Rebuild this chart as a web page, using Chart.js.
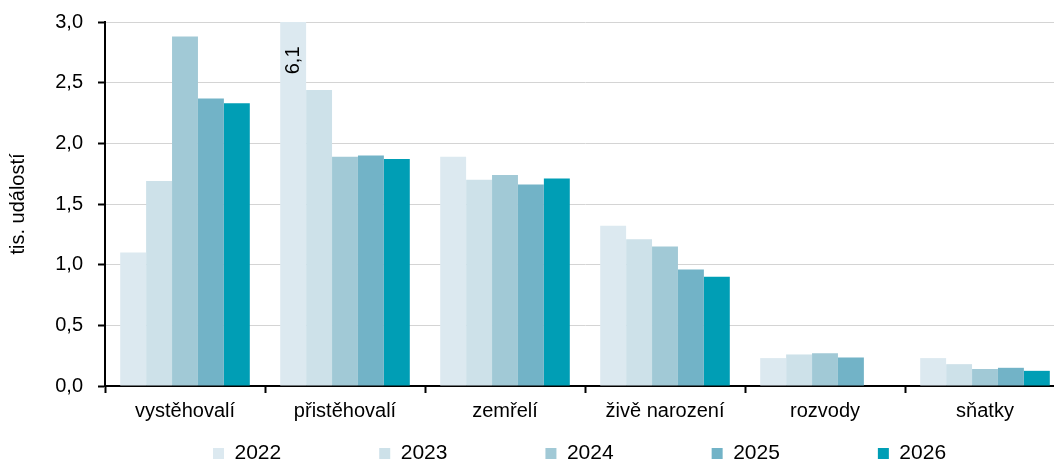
<!DOCTYPE html>
<html>
<head>
<meta charset="utf-8">
<script src="https://cdn.jsdelivr.net/npm/chart.js@4/dist/chart.umd.min.js"></script>
<style>
  html, body { margin: 0; padding: 0; background: #fff; overflow: hidden; }
  #wrap { position: relative; width: 1066px; height: 461px; }
</style>
</head>
<body>
<div id="wrap"><canvas id="c"></canvas></div>
<script>
const categories = ['vystěhovalí', 'přistěhovalí', 'zemřelí', 'živě narození', 'rozvody', 'sňatky'];
const seriesNames = ['2022', '2023', '2024', '2025', '2026'];
const values2022 = [1.10, 6.1, 1.89, 1.32, 0.23, 0.23];
const values2023 = [1.69, 2.44, 1.70, 1.21, 0.26, 0.18];
const values2024 = [2.88, 1.89, 1.74, 1.15, 0.27, 0.14];
const values2025 = [2.37, 1.90, 1.66, 0.96, 0.235, 0.15];
const values2026 = [2.33, 1.87, 1.71, 0.90, null, 0.125];
const seriesColors = ['#DCE9F0', '#CDE1E9', '#A1C9D6', '#72B3C7', '#009EB5'];
const yTicks = [0, 0.5, 1.0, 1.5, 2.0, 2.5, 3.0];
const overflowLabel = '6,1';

const FONT = "'Liberation Sans', Arial, sans-serif";
const allValues = [values2022, values2023, values2024, values2025, values2026];

const datasets = seriesNames.map((name, i) => ({
  label: name,
  data: allValues[i],
  backgroundColor: seriesColors[i],
  borderWidth: 0,
  categoryPercentage: 0.81,
  barPercentage: 1.0
}));

const overflowPlugin = {
  id: 'overflowLabel',
  afterDatasetsDraw(chart) {
    const meta = chart.getDatasetMeta(0);
    const bar = meta.data[1];
    if (!bar) return;
    const ctx = chart.ctx;
    const top = chart.chartArea.top;
    ctx.save();
    ctx.translate(bar.x, top);
    ctx.rotate(-Math.PI / 2);
    ctx.font = "20px " + FONT;
    ctx.fillStyle = '#000';
    ctx.textAlign = 'right';
    ctx.textBaseline = 'middle';
    ctx.fillText(overflowLabel, -24.5, 0);
    ctx.restore();
  }
};

const legendPosPlugin = {
  id: 'legendPos',
  afterLayout(chart) {
    const lg = chart.legend;
    if (!lg) return;
    const pad = lg.options.labels.padding;
    lg.left = 213 - pad;
    lg.top = 443 - pad;
  }
};

new Chart(document.getElementById('c'), {
  type: 'bar',
  data: { labels: categories, datasets },
  plugins: [overflowPlugin, legendPosPlugin],
  options: {
    responsive: true,
    maintainAspectRatio: false,
    animation: false,
    events: [],
    layout: { padding: { top: 22, right: 1, bottom: 0, left: 0 } },
    plugins: {
      tooltip: { enabled: false },
      legend: {
        position: 'bottom',
        align: 'start',
        maxHeight: 35,
        labels: {
          boxWidth: 11,
          boxHeight: 11,
          padding: 98,
          color: '#000',
          font: { family: FONT, size: 21 }
        }
      }
    },
    scales: {
      x: {
        offset: true,
        grid: {
          offset: true,
          drawOnChartArea: false,
          drawTicks: true,
          tickLength: 7,
          tickColor: '#000',
          tickWidth: 2
        },
        border: { display: true, color: '#000', width: 2 },
        ticks: {
          color: '#000',
          font: { family: FONT, size: 20 },
          padding: 6,
          maxRotation: 0,
          autoSkip: false
        },
        afterFit(scale) { scale.height = 40; scale.paddingLeft = 0; scale.paddingRight = 0; }
      },
      y: {
        min: 0,
        max: 3,
        afterBuildTicks(scale) { scale.ticks = yTicks.map(v => ({ value: v })); },
        grid: {
          color: '#D4D4D4',
          lineWidth: 1,
          drawTicks: true,
          tickLength: 7,
          tickColor: '#000',
          tickWidth: 2
        },
        border: { display: true, color: '#000', width: 2 },
        ticks: {
          color: '#000',
          font: { family: FONT, size: 20 },
          padding: 15,
          callback: (v) => Number(v).toFixed(1).replace('.', ',')
        },
        title: {
          display: true,
          text: 'tis. událostí',
          color: '#000',
          font: { family: FONT, size: 20 },
          padding: { top: 6, bottom: 0 }
        },
        afterFit(scale) { scale.width = 105; scale.paddingTop = 0; scale.paddingBottom = 0; }
      }
    }
  }
});
</script>
</body>
</html>
